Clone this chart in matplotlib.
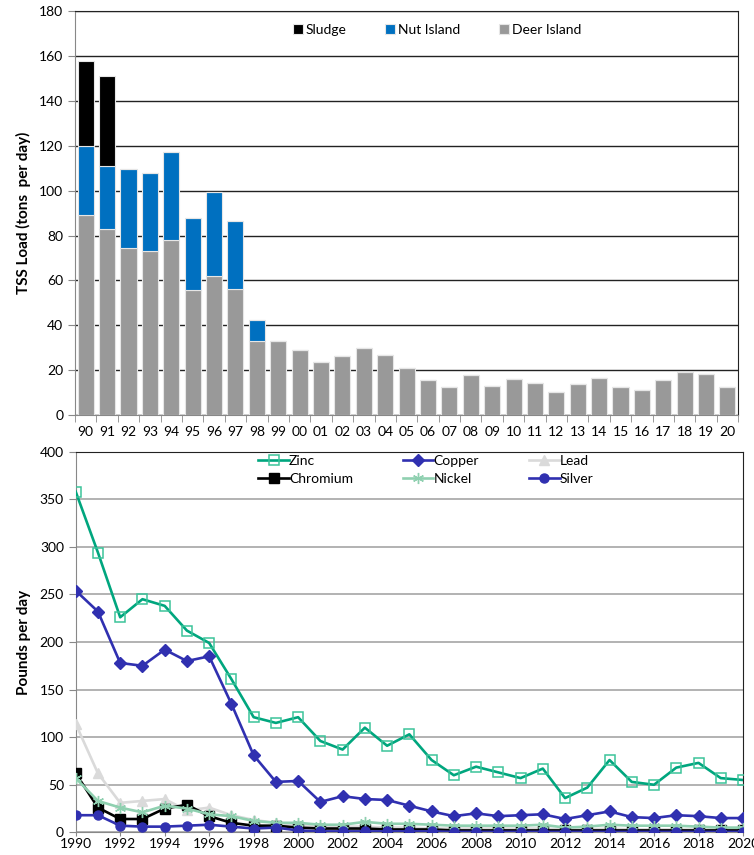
"""TSS loads by source and metals loads, two stacked panels"""

import matplotlib
matplotlib.use('agg')
import matplotlib.pyplot as plt
import numpy as np

plt.rcParams['font.family'] = ['Lato', 'DejaVu Sans']

# --- TSS loads (tons per day) ---
tss_years = ["90", "91", "92", "93", "94", "95", "96", "97", "98", "99",
             "00", "01", "02", "03", "04", "05", "06", "07", "08", "09",
             "10", "11", "12", "13", "14", "15", "16", "17", "18", "19", "20"]
deer_island = [89.0, 82.9, 74.4, 73.2, 77.8, 55.7, 61.9, 56.1, 33.1, 32.8,
               28.8, 23.5, 26.1, 29.9, 26.7, 21.1, 15.7, 12.6, 17.7, 12.8,
               16.0, 14.4, 10.1, 13.9, 16.5, 12.5, 11.1, 15.7, 19.3, 18.1, 12.5]
nut_island = [31.0, 28.1, 35.2, 34.5, 39.5, 31.9, 37.6, 30.2, 9.1] + [0] * 22
sludge = [37.7, 40.0] + [0] * 29

# --- metals loads (pounds per day) ---
metal_years = list(range(1990, 2021))
zinc = [358, 294, 226, 245, 238, 212, 199, 161, 121, 115, 121, 96, 87, 110,
        91, 103, 76, 60, 69, 63, 57, 67, 36, 47, 76, 53, 50, 68, 73, 57, 55]
copper = [254, 232, 178, 175, 192, 180, 185, 135, 81, 53, 54, 32, 38, 35,
          34, 28, 22, 17, 20, 17, 18, 19, 14, 18, 22, 16, 15, 18, 17, 15, 15]
lead = [114, 62, 31, 33, 35, 23, 26, 18, 13, 10, 8, 6, 6, 6,
        5, 5, 4, 4, 4, 4, 4, 4, 3, 3, 4, 3, 3, 3, 3, 3, 3]
chromium = [62, 26, 14, 14, 25, 29, 17, 10, 7, 7, 5, 4, 4, 4,
            3, 3, 3, 2, 2, 2, 2, 2, 2, 2, 2, 2, 2, 2, 2, 2, 2]
nickel = [57, 33, 26, 21, 28, 25, 19, 17, 12, 10, 10, 8, 8, 11,
          9, 9, 8, 7, 7, 7, 7, 8, 5, 6, 8, 7, 7, 7, 6, 5, 5]
silver = [18, 18, 7, 6, 6, 7, 8, 6, 4, 5, 2, 1, 1, 1,
          1, 1, 1, 0.5, 0.5, 0.5, 0.5, 0.5, 0.5, 0.5, 0.5, 0.5, 0.5, 0.5, 0.5, 0.5, 0.5]


def main():
    fig = plt.figure(figsize=(7.54, 8.55), dpi=100)

    # top panel: stacked bars
    ax1 = fig.add_axes([0.0995, 0.5146, 0.8795, 0.4724])
    x = np.arange(len(tss_years))
    deer = np.array(deer_island)
    nut = np.array(nut_island)
    slg = np.array(sludge)
    w = 0.75
    b_deer = ax1.bar(x, deer, w, color="#999999", edgecolor="#e6e6e6",
                     linewidth=0.8, zorder=3)
    b_nut = ax1.bar(x, nut, w, bottom=deer, color="#0070C0",
                    edgecolor="#e6e6e6", linewidth=0.8, zorder=3)
    b_slg = ax1.bar(x, slg, w, bottom=deer + nut, color="#000000",
                    edgecolor="#e6e6e6", linewidth=0.8, zorder=3)
    ax1.set_xlim(-0.5, len(tss_years) - 0.5)
    ax1.set_ylim(0, 180)
    ax1.set_yticks(np.arange(0, 181, 20))
    ax1.yaxis.grid(True, color="#222222", linewidth=1.0, zorder=0)
    ax1.set_xticks(x)
    ax1.set_xticklabels(tss_years)
    ax1.set_xticks(np.arange(-0.5, len(tss_years), 1), minor=True)
    ax1.tick_params(axis="x", which="major", length=0, pad=8, labelsize=10)
    ax1.tick_params(axis="x", which="minor", length=5, color="#888888")
    ax1.tick_params(axis="y", length=5, color="#888888", labelsize=10)
    for s in ["top", "right"]:
        ax1.spines[s].set_color("#222222")
    ax1.spines["left"].set_color("#888888")
    ax1.spines["bottom"].set_color("#888888")
    ax1.set_ylabel("TSS Load (tons  per day)", fontsize=11, fontweight="bold",
                   labelpad=6)
    ax1.legend([b_slg, b_nut, b_deer], ["Sludge", "Nut Island", "Deer Island"],
               loc="center left", bbox_to_anchor=(0.31, 0.953), ncol=3,
               frameon=False, handlelength=0.7, handleheight=0.7,
               handletextpad=0.2, columnspacing=2.8, fontsize=10)

    # bottom panel: metals lines
    ax2 = fig.add_axes([0.1004, 0.0265, 0.885, 0.4452])
    lw = 1.9
    h_zn, = ax2.plot(metal_years, zinc, color="#00A67E", lw=lw, marker="s",
                     ms=7.5, mfc="none", mec="#3CC39A", mew=1.1, zorder=3)
    h_cu, = ax2.plot(metal_years, copper, color="#3030B0", lw=lw, marker="D",
                     ms=6, zorder=4)
    h_pb, = ax2.plot(metal_years, lead, color="#DADADA", lw=lw, marker="^",
                     ms=7, zorder=3)
    h_cr, = ax2.plot(metal_years, chromium, color="#000000", lw=lw,
                     marker="s", ms=7, zorder=4)
    h_ni, = ax2.plot(metal_years, nickel, color="#8FD0B0", lw=lw,
                     marker=(6, 2, 0), ms=8, mew=1.0, zorder=5)
    h_ag, = ax2.plot(metal_years, silver, color="#3030B0", lw=lw, marker="o",
                     ms=6.5, zorder=6)
    ax2.set_xlim(1990, 2020)
    ax2.set_ylim(0, 400)
    ax2.set_yticks(np.arange(0, 401, 50))
    ax2.set_xticks(np.arange(1990, 2021, 2))
    ax2.yaxis.grid(True, color="#A6A6A6", linewidth=1.2, zorder=0)
    ax2.tick_params(axis="y", length=5, color="#888888", labelsize=10)
    ax2.tick_params(axis="x", length=3, pad=1, color="#888888", labelsize=10)
    for s in ["top", "right"]:
        ax2.spines[s].set_color("#222222")
    ax2.spines["left"].set_color("#888888")
    ax2.spines["bottom"].set_color("#888888")
    ax2.set_ylabel("Pounds per day", fontsize=11, fontweight="bold",
                   labelpad=6)
    # legend fills column by column, so interleave to get rows
    # Zinc/Copper/Lead over Chromium/Nickel/Silver
    ax2.legend([h_zn, h_cr, h_cu, h_ni, h_pb, h_ag],
               ["Zinc", "Chromium", "Copper", "Nickel", "Lead", "Silver"],
               loc="upper left", bbox_to_anchor=(0.255, 1.025), ncol=3,
               frameon=False, handlelength=2.2, handletextpad=0.0,
               columnspacing=3.6, labelspacing=0.45, fontsize=10)

    fig.savefig("out.png", dpi=100)


if __name__ == "__main__":
    main()
